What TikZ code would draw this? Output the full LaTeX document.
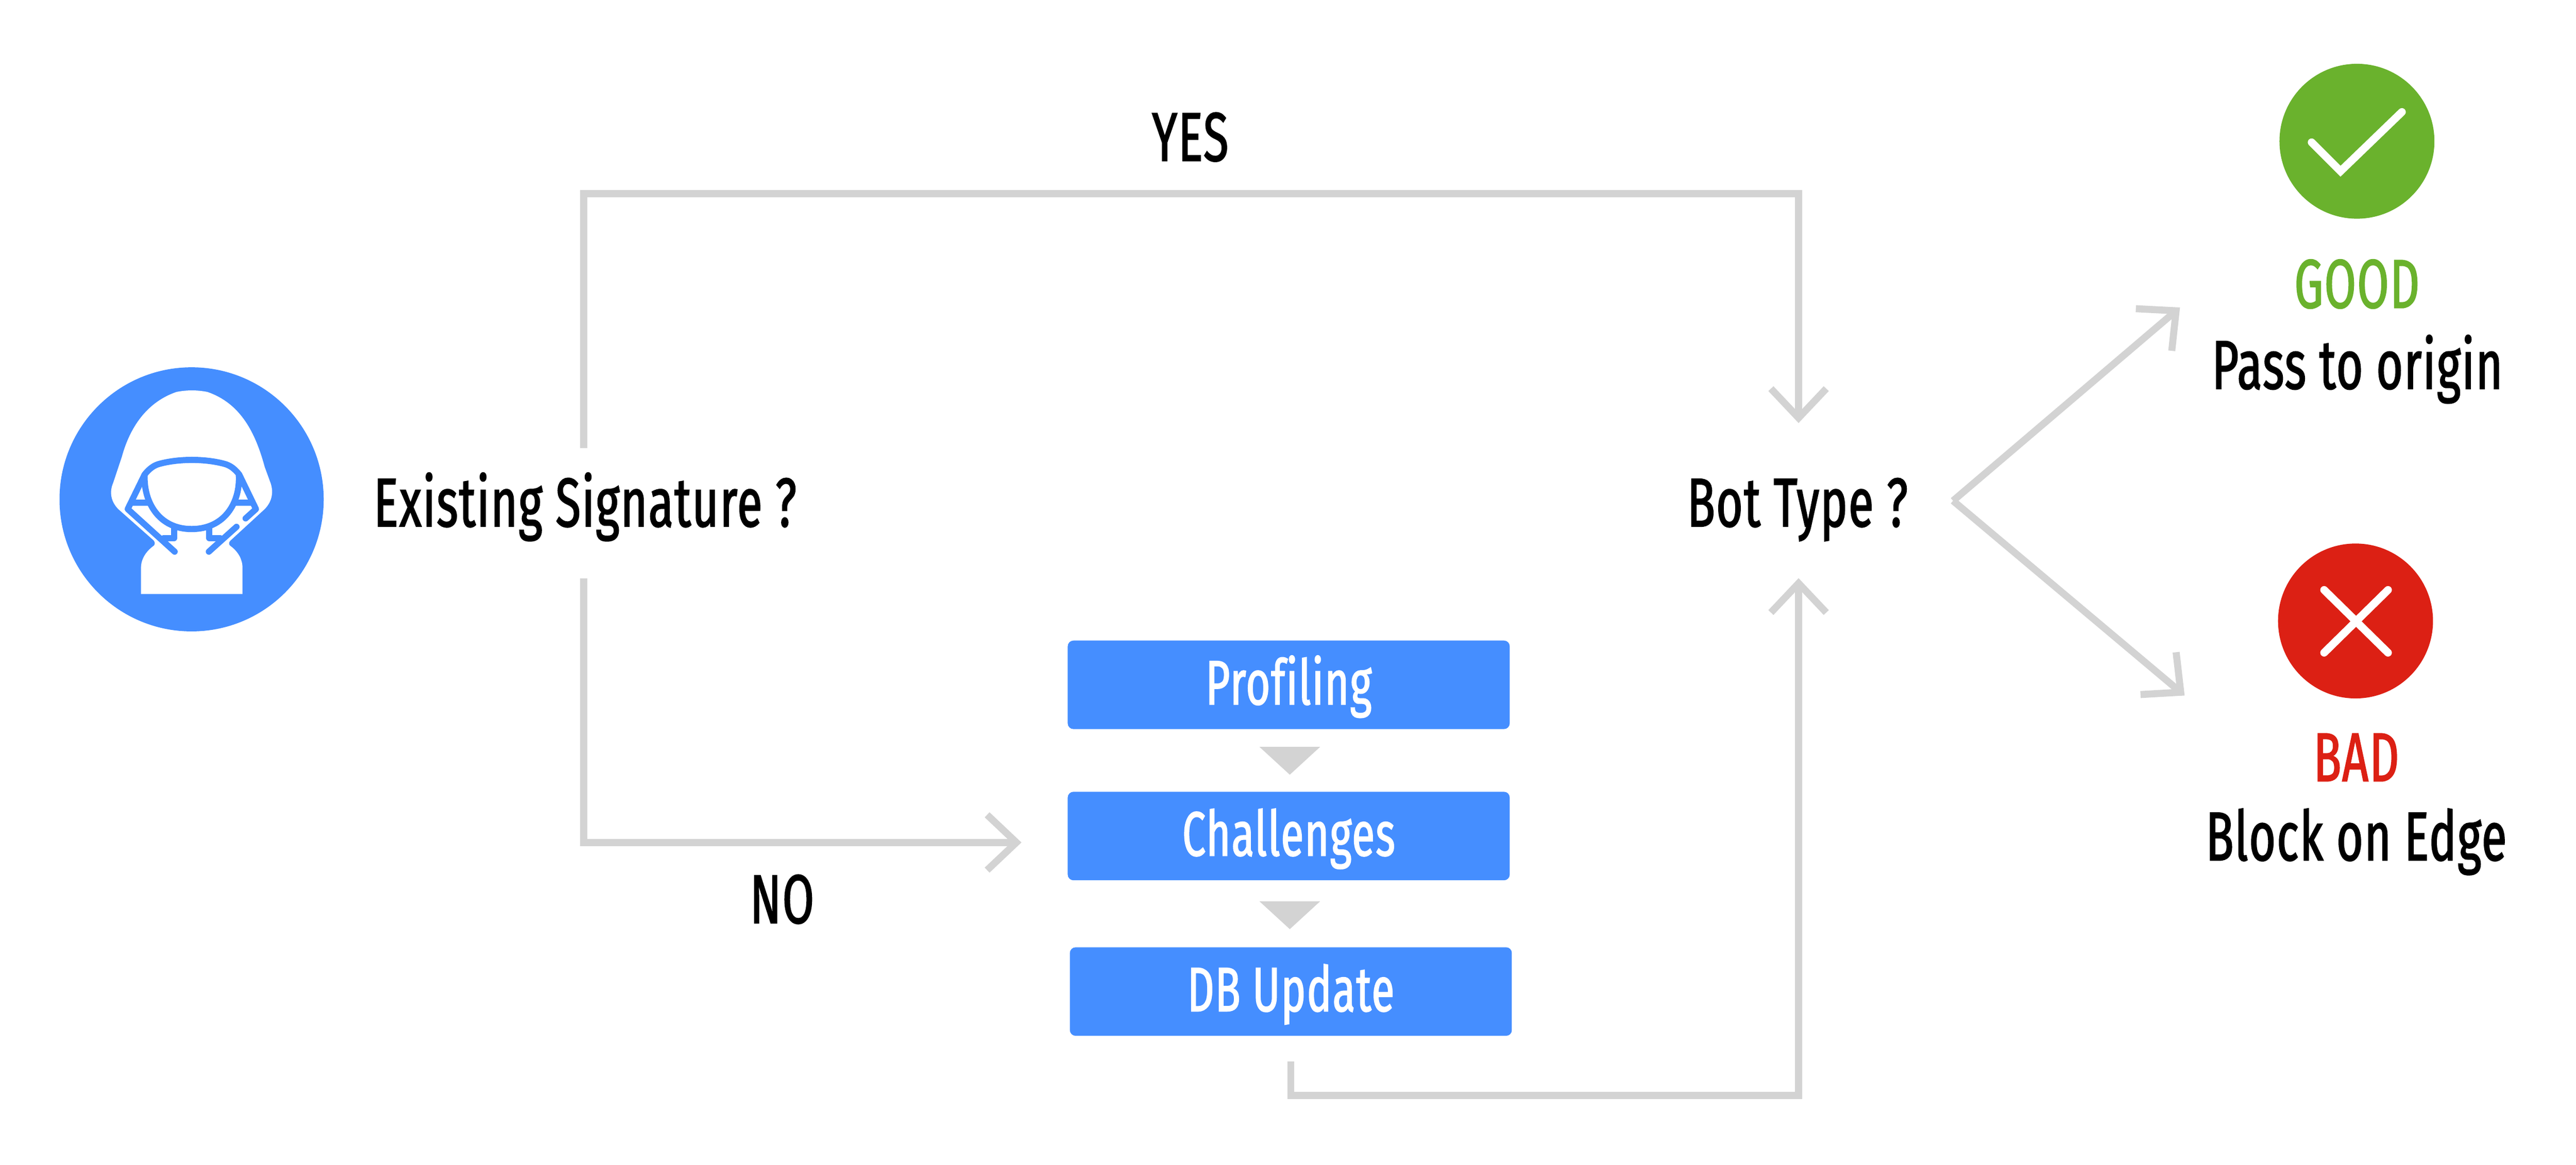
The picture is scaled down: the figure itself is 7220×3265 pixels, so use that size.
\documentclass[tikz,border=0pt]{standalone}
\usepackage{fontspec}
\setmainfont{Fira Sans}[FakeStretch=0.665,FakeBold=1.5,LetterSpace=1.5,Ligatures=NoCommon]
\usetikzlibrary{arrows.meta}
\definecolor{cblue}{HTML}{458EFF}
\definecolor{cgrey}{HTML}{D3D3D3}
\definecolor{cgreen}{HTML}{6AB22D}
\definecolor{cred}{HTML}{DC2014}
\tikzset{
  conn/.style={draw=cgrey,line width=5.6pt,-{Straight Barb[length=0.82cm,width=1.55cm]}},
  lbl/.style={anchor=base,inner sep=0pt,font=\fontsize{55}{60}\selectfont},
  stepbox/.style={fill=cblue,rounded corners=0.16cm,text=white,inner sep=0pt,
    minimum width=12.38cm,minimum height=2.48cm,text height=1.22cm,text depth=0.12cm,
    font=\fontsize{50}{56}\selectfont},
  tri/.style={fill=cgrey},
  iconline/.style={draw=cblue,line width=4.9pt,line cap=round,line join=round},
  tick/.style={draw=white,line width=6.2pt,line cap=round}
}
\begin{document}
\begin{tikzpicture}[x=0.01cm,y=-0.01cm]
\useasboundingbox[fill=white] (0,0) rectangle (7220,3265);

% user icon
\node[circle,fill=cblue,minimum size=7.4cm,inner sep=0pt] (user) at (537,1400) {};
\begin{scope}[shift={(130,990)},x=0.0051cm,y=-0.00523cm]
  \fill[white] (590,1003) -- (395,835) .. controls (355,795) and (345,745) .. (367,695)
    -- (415,555) .. controls (450,430) and (530,270) .. (715,208)
    .. controls (770,197) and (830,197) .. (885,208)
    .. controls (1070,270) and (1150,430) .. (1200,610) -- (1232,695)
    .. controls (1250,745) and (1240,795) .. (1200,835)
    -- (1010,1005) .. controls (1000,1015) and (1003,1030) .. (1015,1035)
    .. controls (1055,1065) and (1078,1105) .. (1078,1150)
    -- (1078,1290) -- (520,1290) -- (520,1150)
    .. controls (520,1105) and (545,1065) .. (585,1035)
    .. controls (597,1030) and (600,1015) .. (590,1003) -- cycle;
  % hood edge
  \draw[iconline] (705,1063) -- (447,835) -- (540,650) .. controls (565,620) and (590,600) .. (625,592)
    .. controls (730,565) and (870,565) .. (975,592)
    .. controls (1010,600) and (1035,620) .. (1060,650) -- (1152,835) -- (1095,885);
  \draw[iconline] (1045,930) -- (893,1063);
  % face
  \draw[iconline] (540,655) .. controls (535,800) and (620,942) .. (798,942)
    .. controls (980,942) and (1065,800) .. (1058,655);
  % collar and neck
  \draw[iconline] (470,800) -- (565,800);
  \draw[iconline] (1035,800) -- (1125,800);
  \draw[iconline] (702,935) -- (702,990) -- (645,990);
  \draw[iconline] (896,935) -- (896,990) -- (955,990);
\end{scope}

% labels
\node[lbl] (sig) at (1640,1476) {Existing Signature ?};
\node[lbl] (bot) at (5038,1476) {Bot Type ?};
\node[lbl] (yes) at (3336,451) {YES};
\node[lbl] (no) at (2192,2588) {NO};

% process boxes
\node[stepbox] (prof) at (3612,1920) {Profiling};
\node[stepbox] (chal) at (3612,2344) {Challenges};
\node[stepbox] (dbup) at (3618,2780) {DB Update};

% small triangles
\fill[tri] (3530,2094) -- (3700,2094) -- (3615,2172) -- cycle;
\fill[tri] (3530,2527) -- (3700,2527) -- (3615,2605) -- cycle;

% connectors
\coordinate (sigup) at (1636,1256);
\coordinate (sigdown) at (1636,1621);
\coordinate (bottop) at (5041,1186);
\coordinate (botbottom) at (5041,1621);
\coordinate (chalin) at (2863,2362);
\coordinate (dbout) at (3618,2976);
\coordinate (fork) at (5474,1404);
\coordinate (goodin) at (6110,862);
\coordinate (badin) at (6123,1950);
\draw[conn] (sigup) -- (1636,543) -- (5041,543) -- (bottop);
\draw[conn] (sigdown) -- (1636,2362) -- (chalin);
\draw[conn] (dbout) -- (3618,3071) -- (5041,3071) -- (botbottom);
\draw[conn] (fork) -- (goodin);
\draw[conn] (fork) -- (badin);

% verdicts
\node[circle,fill=cgreen,minimum size=4.34cm,inner sep=0pt] (okc) at (6606,396) {};
\draw[tick,line join=miter] (6479,399) -- (6560,480) -- (6732,314);
\node[lbl,text=cgreen] (good) at (6606,863) {GOOD};
\node[lbl] (pass) at (6607,1090) {Pass to origin};
\node[circle,fill=cred,minimum size=4.34cm,inner sep=0pt] (noc) at (6602,1741) {};
\draw[tick] (6514,1654) -- (6693,1830);
\draw[tick] (6693,1654) -- (6514,1830);
\node[lbl,text=cred] (bad) at (6604,2190) {BAD};
\node[lbl] (block) at (6604,2412) {Block on Edge};
\end{tikzpicture}
\end{document}
